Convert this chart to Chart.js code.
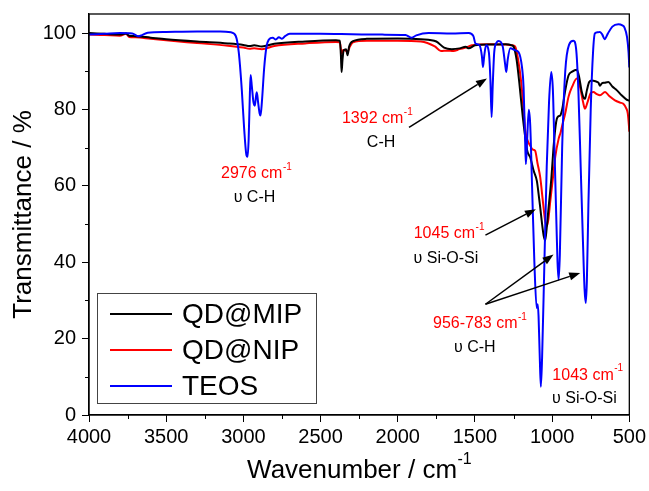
<!DOCTYPE html>
<html><head><meta charset="utf-8">
<script src="https://cdn.jsdelivr.net/npm/chart.js@4/dist/chart.umd.min.js"></script>
<style>html,body{margin:0;padding:0;background:#fff}#wrap{width:649px;height:491px}</style>
</head><body><div id="wrap"><canvas id="c" width="649" height="491"></canvas></div>
<script>
// ---- data (wavenumber in cm-1, transmittance in %) ----
const wnMIP = [4000,3900,3800,3760,3740,3700,3600,3500,3300,3100,3000,2960,2930,2880,2800,2600,2400,2375,2368,2364,2358,2350,2335,2325,2315,2290,2200,2000,1850,1750,1700,1650,1600,1560,1540,1500,1400,1300,1260,1250,1230,1210,1190,1174,1160,1142,1120,1099,1085,1077,1065,1055,1045,1035,1023,1005,991,978,970,960,948,935,915,894,870,840,825,810,795,787,775,760,743,720,700,690,679,660,636,610,580,550,518,500];
const tMIP  = [100.0,99.8,99.6,99.9,99.3,99.2,98.8,98.4,97.8,97.3,96.9,96.6,96.8,96.5,97.2,97.8,98.1,98.0,94,89.8,93,95.5,95.8,94.2,96.5,97.9,98.5,98.6,98.4,97.8,96.2,95.8,96.0,96.4,96.0,96.8,97.0,97.1,96.8,96.5,93,86,78,72.7,69,67.5,64,61.3,57,54.3,50,47,45.7,49,54.3,62,70,75.5,77.5,78.2,78.4,80,85,88.9,89.9,90.4,88.5,85,83,82.8,85,87.2,87.6,87.4,87,86.2,86.8,87,87.2,86,85,83.7,82.6,82.3];
const wnNIP = [4000,3900,3800,3760,3740,3700,3600,3500,3300,3100,3000,2960,2930,2880,2800,2600,2400,2375,2366,2362,2355,2340,2325,2310,2290,2200,2000,1850,1760,1720,1680,1640,1600,1560,1520,1400,1300,1260,1240,1220,1200,1185,1174,1160,1142,1125,1110,1095,1077,1060,1045,1034,1025,1012,995,980,958,945,937,915,894,870,840,820,800,787,770,750,733,710,690,657,630,593,560,539,520,510,503,500];
const tNIP  = [99.6,99.5,99.3,99.8,99.0,98.9,98.5,98.1,97.4,96.7,96.2,95.9,96.0,95.8,96.6,97.3,97.7,97.6,95,94.6,95.6,95.5,95.1,96.5,97.6,98.0,98.0,97.8,96.5,95.3,95.4,95.3,95.8,96.2,96.8,97.1,97.0,96.8,96.5,93,87,80,74.5,72,70.5,69.5,69.2,66,62.2,56,50.8,49.5,51,56,62,67.5,72.3,74,75.4,79,83.3,86,88.1,86,82,80.2,82,84.3,84.6,84,83.7,84.6,83.5,82.4,81.8,81.5,80.3,79,76,74.2];
const wnTEOS = [4000,3900,3800,3720,3680,3660,3620,3500,3300,3150,3080,3050,3030,3010,2995,2980,2973,2966,2958,2953,2945,2935,2926,2918,2913,2905,2895,2889,2880,2865,2850,2835,2810,2790,2770,2750,2730,2700,2500,2300,2100,1950,1910,1880,1800,1650,1540,1510,1497,1470,1455,1448,1440,1428,1410,1400,1392,1385,1375,1360,1346,1320,1305,1297,1288,1271,1240,1217,1195,1185,1175,1170,1162,1151,1142,1130,1115,1100,1094,1088,1080,1073,1065,1050,1035,1020,1006,995,985,972,965,958,950,935,915,890,862,845,830,815,800,790,782,775,765,750,735,723,705,690,675,660,640,610,571,545,532,515,505,500];
const tTEOS  = [99.6,99.8,100.0,99.9,99.2,99.4,100.1,100.3,100.4,100.4,100.2,99.3,95,85,75,68,67.6,72,84,89,86,82,81,83.5,84.5,82,79,78.4,82,91,96.5,98.3,98.8,98.3,98.9,98.5,99.2,99.8,99.8,99.7,99.6,99.5,98.8,99.4,100,99.9,100,99.2,97.3,96.8,94,91.1,94,96.8,95,88,78,86,95,97.5,97.9,96.5,92,89.8,93,96,95.5,95,91,85.9,72,65.7,72,79.9,76,60,40,28,29,26,15,7.4,15,40,65,82,89.8,85,70,50,40,35.4,42,70,90,97,98,96,85,65,45,33,29.3,35,55,80,95,99.9,100.2,100.3,99.6,98.4,99.8,101.7,102.3,102,101.5,99,95,91];

const xTicks = [4000,3500,3000,2500,2000,1500,1000,500];
const yTicks = [0,20,40,60,80,100];
const seriesNames = ['QD@MIP','QD@NIP','TEOS'];
const seriesColors = ['#000000','#ff0000','#0000ff'];

// annotations: [main text, superscript, wavenumber, transmittance, colour]
const annoTexts = [
  ['2976 cm','-1',2917,63.1,'#ff0000'], ['\u03c5 C-H','',2928,56.9,'#000000'],
  ['1392 cm','-1',2134,77.6,'#ff0000'], ['C-H','',2108,71.4,'#000000'],
  ['1045 cm','-1',1669,47.4,'#ff0000'], ['\u03c5 Si-O-Si','',1688,41.0,'#000000'],
  ['956-783 cm','-1',1469,23.9,'#ff0000'], ['\u03c5 C-H','',1501,17.6,'#000000'],
  ['1043 cm','-1',771,10.4,'#ff0000'], ['\u03c5 Si-O-Si','',791,4.3,'#000000']
];
// arrows: [from wn, from T, to wn, to T]
const annoArrows = [
  [1927,75.3,1422,88.1],
  [1432,47.1,1105,53.9],
  [1432,29.0,991,42.0],
  [1432,29.0,818,37.2]
];

const mk = (wn,t)=>wn.map((x,i)=>({x:x,y:t[i]}));
const FONT = "'Liberation Sans', Arial, sans-serif";

function supText(ctx, main, sup, cx, cy, color, size){
  ctx.save();
  ctx.fillStyle = color;
  ctx.textBaseline = 'middle';
  ctx.font = size + 'px ' + FONT;
  const w1 = ctx.measureText(main).width;
  const ss = Math.round(size*0.62);
  ctx.font = ss + 'px ' + FONT;
  const w2 = sup ? ctx.measureText(sup).width : 0;
  const x0 = cx - (w1+w2)/2;
  ctx.textAlign = 'left';
  ctx.font = size + 'px ' + FONT;
  ctx.fillText(main, x0, cy);
  if (sup){ ctx.font = ss + 'px ' + FONT; ctx.fillText(sup, x0 + w1 + 0.5, cy - size*0.42); }
  ctx.restore();
}

const deco = {
  id:'deco',
  afterDraw(chart){
    const ctx = chart.ctx, a = chart.chartArea, xs = chart.scales.x, ys = chart.scales.y;
    ctx.save();
    // frame
    ctx.strokeStyle = '#000'; ctx.lineWidth = 1.3;
    ctx.strokeRect(a.left, a.top, a.right-a.left, a.bottom-a.top);
    // minor ticks
    ctx.lineWidth = 1;
    ctx.beginPath();
    for (let v=3750; v>500; v-=500){ const p = Math.round(xs.getPixelForValue(v))+0.5; ctx.moveTo(p,a.bottom); ctx.lineTo(p,a.bottom+4); }
    for (let v=10; v<105; v+=20){ const p = Math.round(ys.getPixelForValue(v))+0.5; ctx.moveTo(a.left,p); ctx.lineTo(a.left-4,p); }
    ctx.stroke();
    // arrows
    ctx.strokeStyle = '#000'; ctx.fillStyle = '#000'; ctx.lineWidth = 1.5;
    annoArrows.forEach(r=>{
      const x1 = xs.getPixelForValue(r[0]), y1 = ys.getPixelForValue(r[1]);
      const x2 = xs.getPixelForValue(r[2]), y2 = ys.getPixelForValue(r[3]);
      const ang = Math.atan2(y2-y1, x2-x1), L = 11, W = 4;
      const bx = x2 - L*Math.cos(ang), by = y2 - L*Math.sin(ang);
      ctx.beginPath(); ctx.moveTo(x1,y1); ctx.lineTo(bx,by); ctx.stroke();
      ctx.beginPath(); ctx.moveTo(x2,y2);
      ctx.lineTo(bx + W*Math.sin(ang), by - W*Math.cos(ang));
      ctx.lineTo(bx - W*Math.sin(ang), by + W*Math.cos(ang));
      ctx.closePath(); ctx.fill();
    });
    // annotation texts
    annoTexts.forEach(r=>supText(ctx, r[0], r[1], xs.getPixelForValue(r[2]), ys.getPixelForValue(r[3]), r[4], 16));
    // x axis title
    supText(ctx, 'Wavenumber / cm', '-1', (a.left+a.right)/2, 471, '#000', 26);
    // legend
    const lx = a.left + 8, ly = 293, lw = 219, lh = 110;
    ctx.fillStyle = '#fff'; ctx.fillRect(lx, ly, lw, lh);
    ctx.strokeStyle = '#444'; ctx.lineWidth = 1; ctx.strokeRect(lx+0.5, ly+0.5, lw, lh);
    ctx.font = '28px ' + FONT; ctx.textBaseline = 'middle'; ctx.textAlign = 'left';
    seriesNames.forEach((n,i)=>{
      const yy = ly + 21 + i*36;
      ctx.strokeStyle = seriesColors[i]; ctx.lineWidth = 2;
      ctx.beginPath(); ctx.moveTo(lx+13, yy); ctx.lineTo(lx+75, yy); ctx.stroke();
      ctx.fillStyle = '#000'; ctx.fillText(n, lx+85, yy+1);
    });
    ctx.restore();
  }
};

new Chart(document.getElementById('c'), {
  type:'line',
  data:{ datasets:[
    {label:seriesNames[2], data:mk(wnTEOS,tTEOS), borderColor:seriesColors[2], borderWidth:2, pointRadius:0, cubicInterpolationMode:'monotone', order:0},
    {label:seriesNames[0], data:mk(wnMIP,tMIP), borderColor:seriesColors[0], borderWidth:2, pointRadius:0, cubicInterpolationMode:'monotone', order:1},
    {label:seriesNames[1], data:mk(wnNIP,tNIP), borderColor:seriesColors[1], borderWidth:2, pointRadius:0, cubicInterpolationMode:'monotone', order:2}
  ]},
  options:{
    responsive:false, animation:false, events:[],
    layout:{padding:{left:0,right:18,top:14,bottom:0}},
    plugins:{legend:{display:false}, tooltip:{enabled:false}},
    scales:{
      x:{type:'linear', reverse:true, min:500, max:4000,
        afterBuildTicks:s=>{ s.ticks = xTicks.map(v=>({value:v})); },
        afterFit:s=>{ s.height = 76; },
        grid:{display:true, drawOnChartArea:false, tickLength:7, color:'#000', lineWidth:1},
        border:{display:true, color:'#000', width:1.3},
        ticks:{color:'#000', font:{family:FONT, size:20}, padding:3, maxRotation:0, callback:v=>String(v)}
      },
      y:{type:'linear', min:0, max:105,
        afterBuildTicks:s=>{ s.ticks = yTicks.map(v=>({value:v})); },
        afterFit:s=>{ s.width = 89; s.paddingTop = 0; s.paddingBottom = 0; },
        grid:{display:true, drawOnChartArea:false, tickLength:7, color:'#000', lineWidth:1},
        border:{display:true, color:'#000', width:1.3},
        ticks:{color:'#000', font:{family:FONT, size:20, lineHeight:1}, padding:6, callback:v=>String(v)},
        title:{display:true, text:'Transmittance / %', color:'#000', font:{family:FONT, size:26}, padding:{top:8,bottom:0}}
      }
    }
  },
  plugins:[deco]
});
</script></body></html>
